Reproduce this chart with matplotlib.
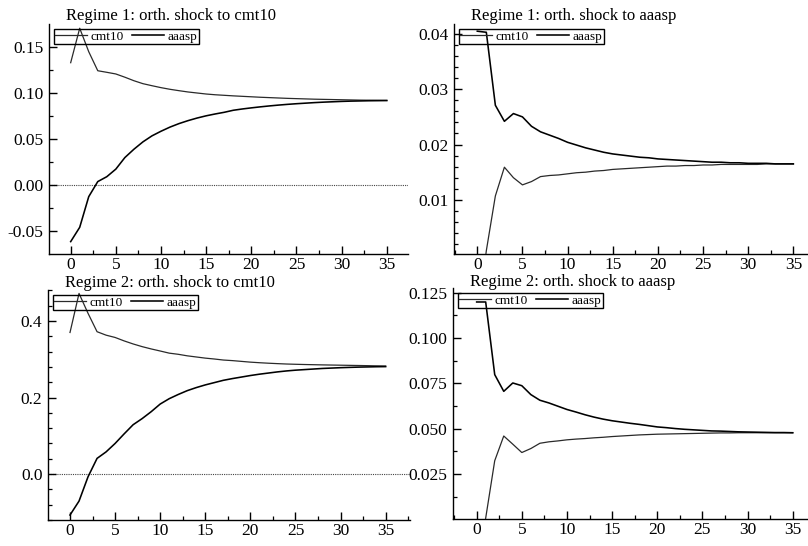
import matplotlib.pyplot as plt
from matplotlib.ticker import MultipleLocator, FormatStrFormatter

plt.rcParams["font.family"] = ["Liberation Serif", "DejaVu Serif"]
plt.rcParams["axes.unicode_minus"] = False

horizon = list(range(36))
series_names = ["cmt10", "aaasp"]

# Regime 1, orthogonalised shock to cmt10
r1_cmt10_cmt10 = [0.1327, 0.170, 0.1446, 0.124, 0.1223, 0.1205, 0.117, 0.1132, 0.110,
                  0.1078, 0.1057, 0.1039, 0.1024, 0.101, 0.0999, 0.0988, 0.098, 0.0974,
                  0.0968, 0.0963, 0.0958, 0.0953, 0.0949, 0.0945, 0.0941, 0.0938, 0.0935,
                  0.0932, 0.093, 0.0928, 0.0926, 0.0924, 0.0922, 0.0921, 0.092, 0.0919]
r1_cmt10_aaasp = [-0.061, -0.0455, -0.0123, 0.004, 0.0093, 0.0175, 0.030, 0.039, 0.047,
                  0.0535, 0.0585, 0.063, 0.0668, 0.070, 0.0728, 0.0752, 0.0772, 0.079,
                  0.0812, 0.0826, 0.0838, 0.0849, 0.0859, 0.0868, 0.0876, 0.0883, 0.0889,
                  0.0895, 0.0900, 0.0904, 0.0908, 0.0911, 0.0913, 0.0915, 0.0916, 0.0917]

# Regime 1, orthogonalised shock to aaasp
r1_aaasp_cmt10 = [-0.012, 0.0008, 0.0107, 0.0159, 0.014, 0.0127, 0.0133, 0.0142, 0.0144,
                  0.0145, 0.0147, 0.0149, 0.015, 0.0152, 0.0153, 0.0155, 0.0156, 0.0157,
                  0.0158, 0.0159, 0.016, 0.0161, 0.0161, 0.0162, 0.0162, 0.0163, 0.0163,
                  0.0164, 0.0164, 0.0164, 0.0164, 0.0164, 0.0165, 0.0165, 0.0165, 0.0165]
r1_aaasp_aaasp = [0.0405, 0.0403, 0.0271, 0.0242, 0.0256, 0.0250, 0.0233, 0.0223, 0.0217,
                  0.0211, 0.0204, 0.0199, 0.0194, 0.019, 0.0186, 0.0183, 0.0181, 0.0179,
                  0.0177, 0.0176, 0.0174, 0.0173, 0.0172, 0.0171, 0.0170, 0.0169, 0.0168,
                  0.0168, 0.0167, 0.0167, 0.0166, 0.0166, 0.0166, 0.0165, 0.0165, 0.0165]

# Regime 2, orthogonalised shock to cmt10
r2_cmt10_cmt10 = [0.370, 0.472, 0.420, 0.372, 0.363, 0.357, 0.348, 0.340, 0.333,
                  0.327, 0.3216, 0.316, 0.313, 0.309, 0.306, 0.303, 0.3007, 0.298,
                  0.2965, 0.2945, 0.2925, 0.291, 0.2897, 0.2886, 0.2876, 0.2869, 0.2863,
                  0.2858, 0.2853, 0.2849, 0.2845, 0.2841, 0.2837, 0.2833, 0.2828, 0.2824]
r2_cmt10_aaasp = [-0.107, -0.0706, -0.007, 0.041, 0.058, 0.080, 0.105, 0.129, 0.145,
                  0.163, 0.183, 0.197, 0.208, 0.218, 0.226, 0.233, 0.239, 0.245,
                  0.2495, 0.2535, 0.2575, 0.261, 0.264, 0.267, 0.2695, 0.2715, 0.273,
                  0.2745, 0.276, 0.277, 0.278, 0.2788, 0.2795, 0.280, 0.2805, 0.2808]

# Regime 2, orthogonalised shock to aaasp
r2_aaasp_cmt10 = [-0.03, 0.0008, 0.0324, 0.046, 0.0415, 0.0369, 0.0391, 0.042, 0.0428,
                  0.0433, 0.0439, 0.0443, 0.0446, 0.045, 0.0453, 0.0457, 0.046, 0.0463,
                  0.0466, 0.0468, 0.047, 0.0471, 0.0472, 0.0473, 0.0474, 0.0475, 0.0476,
                  0.0477, 0.0477, 0.0478, 0.0478, 0.0478, 0.0478, 0.0478, 0.0478, 0.0478]
r2_aaasp_aaasp = [0.1198, 0.1198, 0.0798, 0.0706, 0.0752, 0.0737, 0.0688, 0.0657, 0.0642,
                  0.0624, 0.0606, 0.0592, 0.0577, 0.0564, 0.0553, 0.0544, 0.0537, 0.053,
                  0.0524, 0.0517, 0.051, 0.0506, 0.0501, 0.0497, 0.0494, 0.0491, 0.0488,
                  0.0487, 0.0485, 0.0483, 0.0482, 0.0481, 0.048, 0.0479, 0.0479, 0.0478]

W, H = 808, 546
fig = plt.figure(figsize=(W / 100, H / 100), dpi=100)


def add_panel(left, top, right, bottom):
    return fig.add_axes([left / W, 1 - bottom / H, (right - left) / W, (bottom - top) / H])


panels = [
    # (pixel box, title, title lift px, cmt10, aaasp, xlim, ylim, major, minor, fmt, zero line)
    ((49, 24, 408, 254), "Regime 1: orth. shock to cmt10", 4, r1_cmt10_cmt10, r1_cmt10_aaasp,
     (-2.40, 37.35), (-0.0744, 0.1746), 0.05, 0.025, "%.2f", True),
    ((454, 24, 808, 254), "Regime 1: orth. shock to aaasp", 4, r1_aaasp_cmt10, r1_aaasp_aaasp,
     (-2.58, 36.62), (0.0002, 0.0418), 0.01, 0.002, "%.2f", False),
    ((48, 290, 410, 520), "Regime 2: orth. shock to cmt10", 3, r2_cmt10_cmt10, r2_cmt10_aaasp,
     (-2.44, 37.7), (-0.120, 0.481), 0.2, 0.04, "%.1f", True),
    ((453, 288, 808, 519), "Regime 2: orth. shock to aaasp", 2, r2_aaasp_cmt10, r2_aaasp_aaasp,
     (-2.62, 36.69), (0.0003, 0.1275), 0.025, 0.0125, "%.3f", False),
]

for box, title, lift, y_cmt, y_aaa, xlim, ylim, major, minor, fmt, zero in panels:
    ax = add_panel(*box)
    if zero:
        ax.axhline(0, color="#444444", lw=0.8, ls=(0, (1, 1)), zorder=1)
    ax.plot(horizon, y_cmt, color="#2a2a2a", lw=0.9, label=series_names[0], zorder=3)
    ax.plot(horizon, y_aaa, color="black", lw=1.15, label=series_names[1], zorder=3)
    ax.set_xlim(*xlim)
    ax.set_ylim(*ylim)

    ax.xaxis.set_major_locator(MultipleLocator(5))
    ax.xaxis.set_minor_locator(MultipleLocator(2.5))
    ax.yaxis.set_major_locator(MultipleLocator(major))
    ax.yaxis.set_minor_locator(MultipleLocator(minor))
    ax.yaxis.set_major_formatter(FormatStrFormatter(fmt))

    for side in ["top", "right"]:
        ax.spines[side].set_visible(False)
    for side in ["left", "bottom"]:
        ax.spines[side].set_linewidth(1.0)

    ax.tick_params(which="major", direction="in", length=6, width=1.0,
                   labelsize=12.5, pad=4)
    ax.tick_params(axis="x", which="major", pad=2)
    ax.tick_params(which="minor", direction="in", length=3, width=0.9)

    box_w, box_h = box[2] - box[0], box[3] - box[1]
    ax.text(17 / box_w, 1 + lift / box_h, title, transform=ax.transAxes,
            fontsize=12, ha="left", va="baseline")

    leg = ax.legend(loc="upper left", bbox_to_anchor=(5 / box_w, 1 - 5 / box_h), ncol=2,
                    fontsize=9.5, frameon=True, fancybox=False, facecolor="none",
                    edgecolor="black", borderpad=0.1, handlelength=2.4,
                    handletextpad=0.3, columnspacing=0.6, borderaxespad=0)
    leg.get_frame().set_linewidth(1.0)
    leg.get_frame().set_alpha(None)

fig.savefig("out.png", dpi=100)
